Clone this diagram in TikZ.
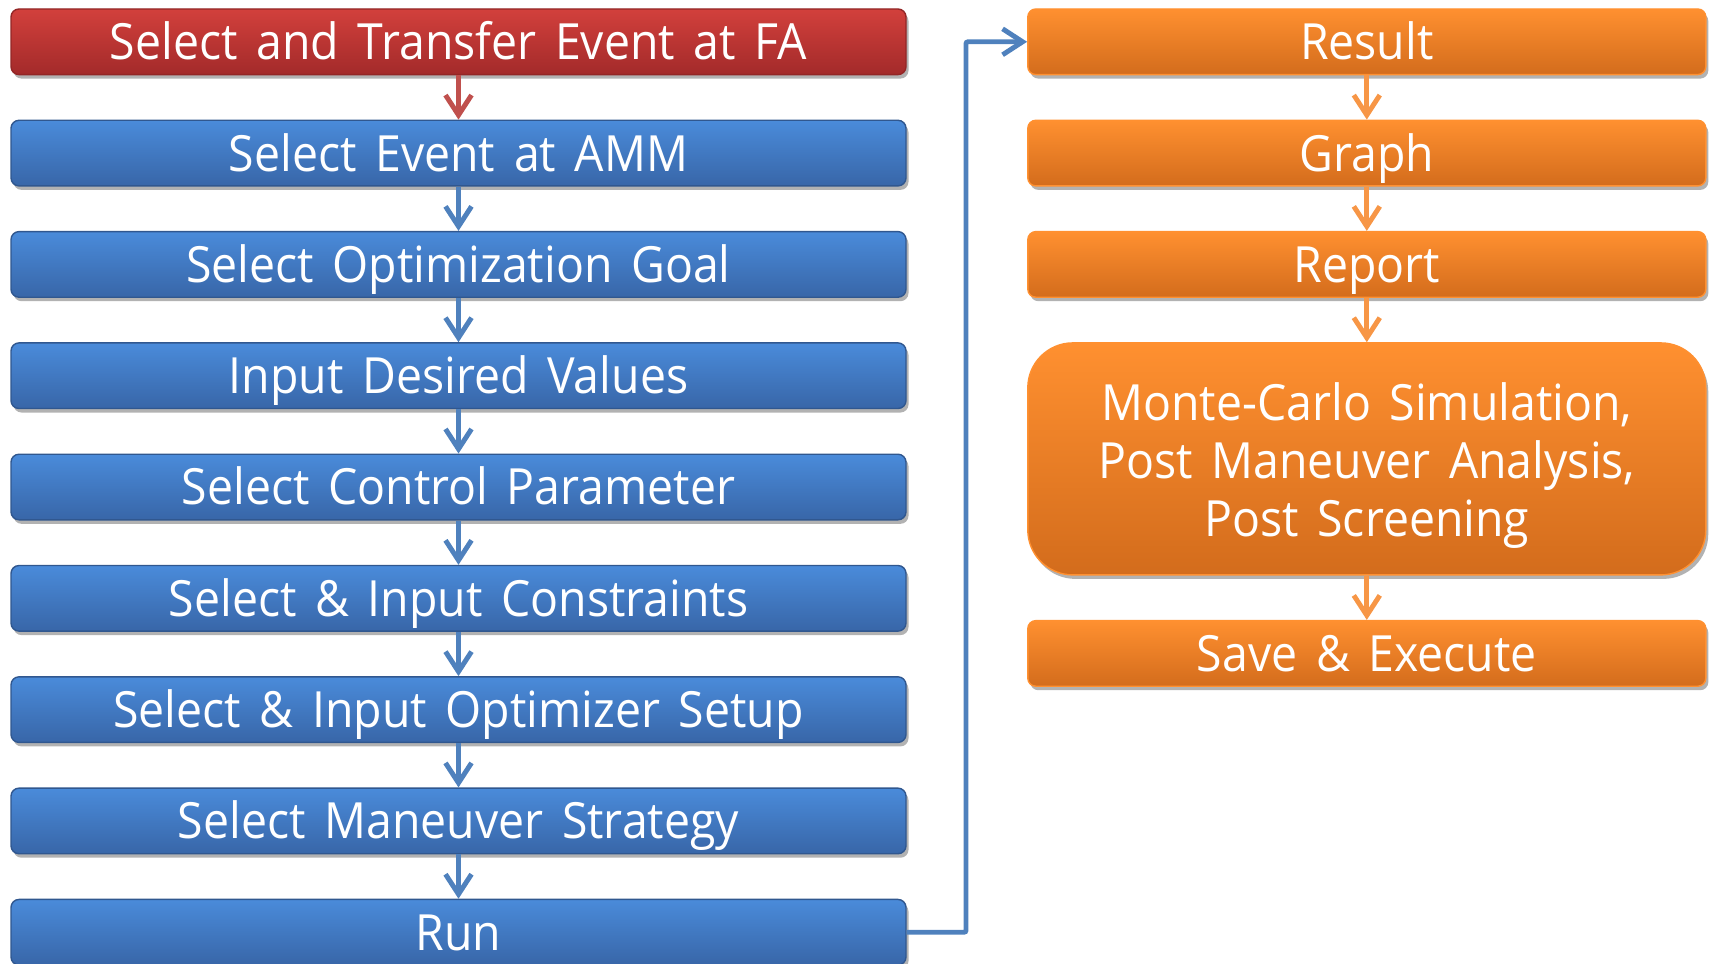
\documentclass[tikz,border=0pt]{standalone}
\usepackage{fontspec}
\setmainfont[FakeStretch=0.93, WordSpace=1.55]{Open Sans}
\usetikzlibrary{positioning,shadows,arrows.meta}

\definecolor{redtop}{HTML}{D2403C}
\definecolor{redbot}{HTML}{A32A2A}
\definecolor{bluetop}{HTML}{4A8BDA}
\definecolor{bluebot}{HTML}{3866A8}
\definecolor{orangetop}{HTML}{FF9030}
\definecolor{orangebot}{HTML}{D36C1C}
\definecolor{redline}{HTML}{C0504D}
\definecolor{blueline}{HTML}{4F81BD}
\definecolor{orangeline}{HTML}{F79646}

\begin{document}
\begin{tikzpicture}[
    node distance=0.443cm,
    bar/.style={rectangle, rounded corners=0.08cm, minimum height=0.656cm, inner sep=0pt,
                text height=12pt, text depth=1.8pt,
                text=white, font=\fontsize{14.2}{16.5}\selectfont,
                drop shadow={shadow xshift=0.025cm, shadow yshift=-0.04cm, opacity=0.3, fill=black}},
    leftbar/.style={bar, minimum width=8.95cm},
    rightbar/.style={bar, minimum width=6.78cm},
    redbar/.style={leftbar, top color=redtop, bottom color=redbot, draw=redbot!90!black, line width=0.4pt},
    bluebar/.style={leftbar, top color=bluetop, bottom color=bluebot, draw=bluebot!85!black, line width=0.4pt},
    orangebar/.style={rightbar, top color=orangetop, bottom color=orangebot, draw=orangetop, line width=0.4pt},
    flow/.style={line width=1.4pt, -{Straight Barb[length=0.2cm, width=0.26cm, line width=1.4pt]}},
]
    \useasboundingbox (0,0) rectangle (17.14,9.64);

    % left column
    \node[redbar] (fa) at (4.585,9.222) {Select and Transfer Event at FA};
    \node[bluebar, below=of fa] (amm) {Select Event at AMM};
    \node[bluebar, below=of amm] (goal) {Select Optimization Goal};
    \node[bluebar, below=of goal] (desired) {Input Desired Values};
    \node[bluebar, below=of desired] (control) {Select Control Parameter};
    \node[bluebar, below=of control] (constr) {Select \& Input Constraints};
    \node[bluebar, below=of constr] (optim) {Select \& Input Optimizer Setup};
    \node[bluebar, below=of optim] (strategy) {Select Maneuver Strategy};
    \node[bluebar, below=of strategy] (run) {Run};

    % right column
    \node[orangebar] (result) at (13.668,9.222) {Result};
    \node[orangebar, below=of result] (graph) {Graph};
    \node[orangebar, below=of graph] (report) {Report};
    \node[orangebar, below=of report, minimum height=2.32cm, rounded corners=0.45cm, align=center,
          text height=, text depth=, font=\fontsize{14.2}{16.6}\selectfont] (mc)
        {\rule{0pt}{14.5pt}Monte-Carlo Simulation,\\Post Maneuver Analysis,\\Post Screening};
    \node[orangebar, below=of mc] (save) {Save \& Execute};

    % arrows
    \draw[flow, redline] (fa) -- (amm);
    \foreach \a/\b in {amm/goal, goal/desired, desired/control, control/constr,
                       constr/optim, optim/strategy, strategy/run}
        \draw[flow, blueline] (\a) -- (\b);
    \foreach \a/\b in {result/graph, graph/report, report/mc, mc/save}
        \draw[flow, orangeline] (\a) -- (\b);

    \coordinate (bend) at (9.66,0);
    \draw[flow, blueline, rounded corners=0.02cm] (run.east) -| (bend |- result.west) -- (result.west);
\end{tikzpicture}
\end{document}
